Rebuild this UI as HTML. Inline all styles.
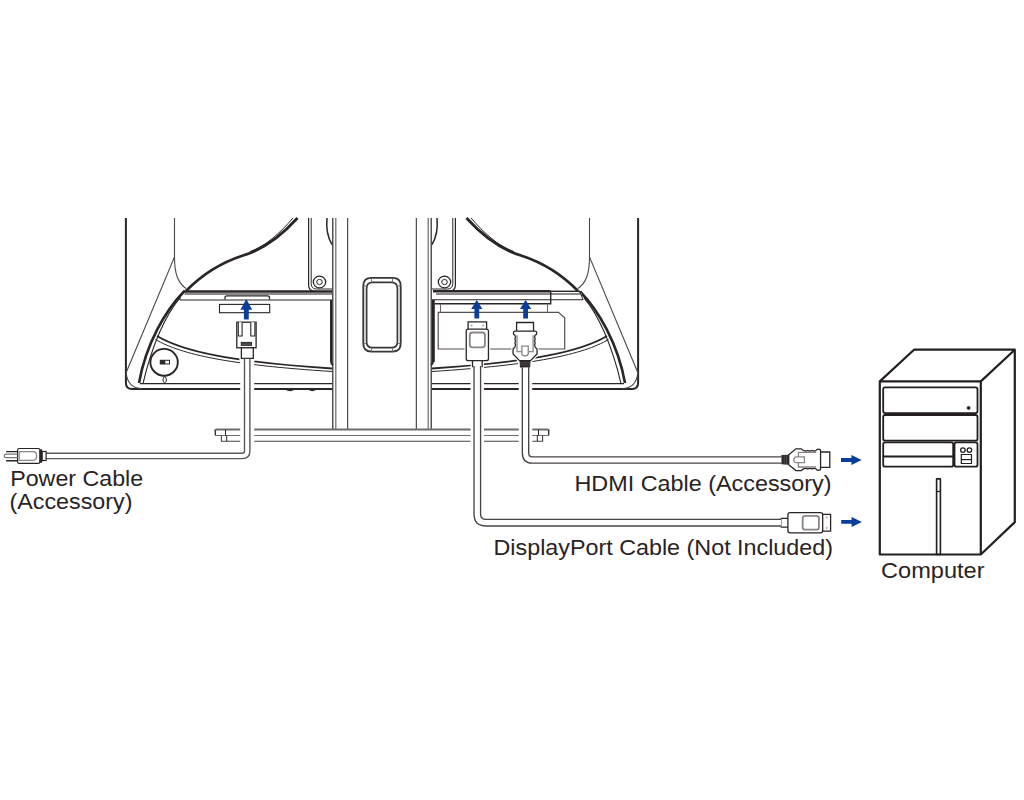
<!DOCTYPE html>
<html><head><meta charset="utf-8">
<style>
html,body{margin:0;padding:0;background:#fff;width:1024px;height:800px;overflow:hidden}
svg{display:block}
text{font-family:"Liberation Sans",sans-serif;fill:#2a2324;stroke:#2a2324;stroke-width:0px}
</style></head>
<body>
<svg width="1024" height="800" viewBox="0 0 1024 800">
<defs>
<g id="half" fill="none" stroke="#2a2526" stroke-linecap="butt">
  <!-- outer frame -->
  <path d="M125.9 218 V383 Q125.9 389 132 389 H332" stroke-width="2"/>
  <path d="M140 383.6 H332" stroke-width="1.4"/>
  <!-- thin vertical + diagonal -->
  <path d="M174.5 218 V257 L126.2 372.5" stroke="#4a4748" stroke-width="1.1"/>
  <path d="M126.2 372.5 Q127.5 388.2 142 388.6" stroke="#4a4748" stroke-width="1.1"/>
  <path d="M174.5 257 C174.5 274 178 283 186 288.5" stroke="#4a4748" stroke-width="1.1"/>
  <!-- S-curve -->
  <path d="M186 291 C204 272.5 223 262 243 255.5 C263 249.5 283 234 297.5 218" stroke-width="2.8"/>
  <path d="M250 251.6 C266 246 280 233 293 218" stroke-width="1"/>
  <!-- arc double -->
  <path d="M184 291.5 C165 311 146 344 139 383" stroke-width="2.6"/>
  <path d="M180 297.8 C166 314 152 345 143 383.6" stroke-width="1.1"/>
  <!-- lower curve -->
  <path d="M157 336 C 182 351, 230 362, 332 368.5" stroke-width="1.8"/>
  <path d="M155.5 339.5 C 181 354.5, 230 365, 332 371.5" stroke-width="1"/>
  <!-- vertical double with rounded corner -->
  <path d="M308.6 218 V285 Q308.6 291.3 315 291.3" stroke-width="1.2"/>
  <path d="M311.2 218 V283.5 Q311.2 289 316.5 289 H332" stroke-width="1"/>
  <!-- screw -->
  <ellipse cx="319.5" cy="282" rx="6.2" ry="5.8" stroke-width="1.3"/>
  <ellipse cx="319.5" cy="282" rx="2.8" ry="2.6" stroke-width="1"/>
  <!-- neck arc -->
  <path d="M327 218 C326 229 328 238 332 244.5" stroke-width="1.5"/>
  <!-- neck verticals -->
  <path d="M332.8 218 V429" stroke-width="1.2"/>
  <path d="M335.8 218 V429" stroke="#6a6768" stroke-width="1.2"/>
  <path d="M347.7 218 V429" stroke-width="1"/>
  <!-- bar right stub below -->
  <path d="M331 300 V361 Q331 364 333 365" stroke-width="2"/>
  <!-- kensington -->
  <!-- handle -->
  <path d="M382 277.9 H371.3 Q363.3 277.9 363.3 285.9 V343.6 Q363.3 351.6 371.3 351.6 H382" stroke="#3a3738" stroke-width="1.9"/>
  <path d="M382 282.4 H372.6 Q366.6 282.4 366.6 288.4 V341.7 Q366.6 347.7 372.6 347.7 H382" stroke="#3a3738" stroke-width="1.7"/>
  <path d="M371.5 278 V282.4 M371.5 347.7 V351.6 M363.3 286 H366.6 M363.3 343.5 H366.6" stroke="#6a6768" stroke-width="0.9"/>
  <!-- base -->
  <path d="M382 429.5 H216.5 Q215.3 429.5 215.3 431" stroke="#6f6c6d" stroke-width="2.2" />
  <path d="M215.3 430.5 V435.5" stroke-width="1.3" />
  <path d="M215.3 435.5 H382" stroke="#6f6c6d" stroke-width="1.2"/>
  <path d="M221.4 435.5 V441.3 H382" stroke="#4a4647" stroke-width="1.1"/>
  <path d="M225.5 429.5 V435.5 M226.7 435.5 V441.3" stroke-width="1"/>
</g>
<g id="hdmi" fill="none" stroke="#2a2526" stroke-width="1.3">
  <path d="M-7.7 0 H7.7 V8.6 H10.6 V12.5 H9.2 V24.7 L10.9 26.5 V31.5 L5 38.2 V45 H-5 V38.2 L-10.9 31.5 V26.5 L-9.2 24.7 V12.5 H-10.6 V8.6 H-7.7 Z" fill="#fff" stroke="#fff" stroke-width="3.5" vector-effect="non-scaling-stroke"/>
  <path d="M-7.7 8.6 V0 H7.7 V8.6" vector-effect="non-scaling-stroke"/>
  <path d="M-9.2 12.5 Q-10.6 12.5 -10.6 10.6 Q-10.6 8.6 -9 8.6 H9 Q10.6 8.6 10.6 10.6 Q10.6 12.5 9.2 12.5" vector-effect="non-scaling-stroke"/>
  <path d="M-9.2 12.5 Q-8.2 14.5 -9.2 16.5 Q-8.2 18.5 -9.2 20.5 Q-8.2 22.5 -9.2 24.7 L-10.9 26.5 V31.5 L-5 38.2 H5 L10.9 31.5 V26.5 L9.2 24.7 Q8.2 22.5 9.2 20.5 Q8.2 18.5 9.2 16.5 Q8.2 14.5 9.2 12.5" vector-effect="non-scaling-stroke"/>
  <path d="M-7.3 12.7 V29.2 H7.3 V12.7" stroke="#8a8586" vector-effect="non-scaling-stroke"/>
  <path d="M-2.9 23.6 V31 Q-2.9 33.4 0 33.4 Q2.9 33.4 2.9 31 V23.6 Z" stroke="#8a8586" fill="#fff" vector-effect="non-scaling-stroke"/>
  <path d="M-5 38.2 H5 L4.6 45 H-4.6 Z" fill="#2a2526" stroke="none"/>
  <path d="M-4.5 40.3 H4.5 M-4.5 42.4 H4.5" stroke="#6a6566" stroke-width="0.6"/>
</g>
<g id="dp" fill="none" stroke="#2a2526" stroke-width="1.3">
  <path d="M-8.4 0 H8.4 V7.2 H10.1 V38.8 H4.4 V45.4 H-4.4 V38.8 H-10.1 V7.2 H-8.4 Z" fill="#fff" stroke="#fff" stroke-width="3.5" vector-effect="non-scaling-stroke"/>
  <path d="M-8.4 7.2 V0 H8.4 V7.2" vector-effect="non-scaling-stroke"/>
  <circle cx="-5.2" cy="3.5" r="1" fill="#b0adae" stroke="none"/>
  <circle cx="5.2" cy="3.5" r="1" fill="#b0adae" stroke="none"/>
  <rect x="-10.1" y="7.2" width="20.2" height="31.6" rx="2" vector-effect="non-scaling-stroke"/>
  <rect x="-6.9" y="10.6" width="13.8" height="14.8" rx="2.5" stroke="#8a8586" stroke-width="1.8" vector-effect="non-scaling-stroke"/>
  <path d="M-4.4 38.8 V45.4 M4.4 38.8 V45.4" vector-effect="non-scaling-stroke"/>
</g>
</defs>

<!-- MONITOR -->
<use href="#half"/>
<use href="#half" transform="translate(764,0) scale(-1,1)"/>

<g fill="none" stroke="#2a2526">
  <!-- left port bar -->
  <path d="M183 291.5 H332" stroke-width="2.4"/>
  <path d="M184.5 294 H332" stroke="#8d8a8b" stroke-width="2.2"/>
  <path d="M180 300 H332" stroke-width="1.1"/>
  <path d="M180 296.5 V300" stroke-width="1"/>
  <path d="M225 299.5 V297 Q225 295.8 227 295.8 H267.5 Q269.5 295.8 269.5 297.5 V299.5" stroke-width="1.3"/>
  <rect x="219.5" y="304.4" width="50.2" height="8.3" stroke-width="1.1"/>
    <path d="M286 389.5 Q290 391.5 294 389.5 M309 389.5 Q312.3 391.5 315.6 389.5" stroke-width="1.3"/>
  <!-- kensington -->
  <ellipse cx="164.1" cy="362.3" rx="13.7" ry="13.4" stroke-width="1.9"/>
  <rect x="160.3" y="360.3" width="9.2" height="3.7" stroke-width="1"/>
  <rect x="160.3" y="360.3" width="5" height="3.7" fill="#2a2526" stroke="none"/>
  <path d="M164.7 375.7 L163 379 Q162.5 382.6 164.7 382.6 Q166.9 382.6 166.4 379 Z" stroke-width="1" fill="#fff"/>

  <!-- right port bar -->
  <path d="M433 291.3 H550.7" stroke-width="2.4"/>
  <path d="M550.7 291.3 H580" stroke-width="1.4"/>
  <path d="M436 294 H582" stroke="#8d8a8b" stroke-width="2.2"/>
  <path d="M432 299.8 H583" stroke-width="1.1"/>
  <path d="M583 300 L580 291.5" stroke-width="1"/>
  <path d="M550.7 291.3 V303.75 H435" stroke-width="1.4"/>
  <path d="M433.8 300 V362" stroke-width="2"/>
  <path d="M440.5 303.75 V312.3 M547.5 303.75 V312.3" stroke="#6d6a6b" stroke-width="1.1"/>
  <path d="M438.2 312.3 H558.5 L564.7 317.8 V349 H438.2 Z" stroke="#555152" stroke-width="1.2"/>
</g>

<g fill="none">
  <path d="M247.2 358 V450.9 Q247.2 455.9 242.2 455.9 H46" stroke="#fff" stroke-width="14"/>
  <path d="M477.3 366 V514 Q477.3 522.7 486 522.7 H781" stroke="#fff" stroke-width="13.5"/>
  <path d="M525.5 367 V453 Q525.5 460 532.5 460 H781" stroke="#fff" stroke-width="13.5"/>
</g>
<!-- power plug (vertical) -->
<g fill="#fff" stroke="#2a2526" stroke-width="1.3">
  <path d="M236.8 322.2 h19.3 v25.6 h-2.8 v10.6 h-11.9 v-10.6 h-4.6 z" stroke="#fff" stroke-width="4"/>
  <rect x="236.8" y="322.2" width="19.3" height="25.6"/>
  <path d="M238.3 322.2 V336 H242.1 V322.2 M250.8 322.2 V336 H254.9 V322.2" stroke-width="1.1"/>
  <rect x="240.8" y="341.9" width="11.2" height="4" fill="#2a2526" stroke="none"/>
  <path d="M241.5 343.2 H251.3 M241.5 344.6 H251.3" stroke="#8a8586" stroke-width="0.5"/>
  <rect x="241.4" y="347.8" width="11.9" height="10.6"/>
</g>

<!-- connectors vertical -->
<g>
  <use href="#dp" transform="translate(477.35,321.9) scale(1.1,1)"/>
  <use href="#hdmi" transform="translate(525.05,322.5) scale(1.1,1)"/>
  <!-- horizontal -->
  <use href="#hdmi" transform="matrix(0,1,-1.075,0,829.8,459.7)"/>
  <use href="#dp" transform="matrix(0,1,-1.1,0,830.6,522.75)"/>
</g>

<!-- base gaps & cables -->
<g fill="none" stroke-linecap="butt">
  <!-- power cable -->
  <path d="M247.2 358.4 V450.9 Q247.2 455.9 242.2 455.9 H46" stroke="#5d5859" stroke-width="6.8"/>
  <path d="M247.2 359 V450.9 Q247.2 455.9 242.2 455.9 H45.5" stroke="#fff" stroke-width="4"/>
  <!-- dp cable -->
  <path d="M477.3 366 V514 Q477.3 522.7 486 522.7 H781.5" stroke="#4a4445" stroke-width="7.9"/>
  <path d="M477.3 365 V514 Q477.3 522.7 486 522.7 H781" stroke="#fff" stroke-width="5.2"/>
  <!-- hdmi cable -->
  <path d="M525.5 367.3 V453 Q525.5 460 532.5 460 H781.6" stroke="#4a4445" stroke-width="7.7"/>
  <path d="M525.5 367.6 V453 Q525.5 460 532.5 460 H781.3" stroke="#fff" stroke-width="5"/>
</g>


<!-- AC plug left -->
<g fill="none" stroke="#2a2526" stroke-width="1.2">
  <rect x="17.6" y="448.5" width="22.2" height="14.9" rx="1.5" fill="#fff"/>
  <path d="M33 451.7 H19.2 V460.3 H33 Q36.6 460.3 36.6 456 Q36.6 451.7 33 451.7" stroke="#8a8586"/>
  <rect x="39.8" y="449.3" width="2.4" height="13.4" fill="#2a2526" stroke="none"/>
  <rect x="42.2" y="451.5" width="3.9" height="9" fill="#fff"/>
  <path d="M6.1 451.6 H17.6 M6.1 460.8 H17.6" stroke-width="1.4"/>
  <path d="M17.6 454.2 H6 Q4.2 454.2 4.2 455.9 Q4.2 457.6 6 457.6 H17.6" stroke="#7a7576"/>
</g>

<!-- arrows -->
<g fill="#0b3d9a">
  <path d="M246.3 299 L252.2 309.8 H248.75 V319.5 H243.9 V309.8 H240.4 Z"/>
  <path d="M476.8 300 L482.4 309 H479.2 V318.6 H474.4 V309 H471.2 Z"/>
  <path d="M525.6 300 L531.2 309 H528 V318.6 H523.2 V309 H520 Z"/>
  <path d="M861.7 460 L851.4 465 V461.9 H841 V458 H851.4 V455 Z"/>
  <path d="M861.9 521.9 L851.6 526.9 V523.8 H841.2 V519.9 H851.6 V516.9 Z"/>
</g>

<!-- COMPUTER -->
<g fill="none" stroke="#231f20" stroke-width="2.2" stroke-linejoin="round">
  <rect x="879.8" y="381.4" width="101" height="173.1"/>
  <path d="M879.8 381.4 L914 349.7 H1014.8 L980.8 381.4 M1014.8 349.7 V522.1 L980.8 554.5"/>
  <rect x="883.2" y="387.4" width="94.3" height="25.7" rx="2" stroke-width="1.8"/>
  <rect x="883.2" y="415" width="94.3" height="25.7" rx="2" stroke-width="1.8"/>
  <rect x="883.2" y="442.3" width="70" height="24.4" rx="2" stroke-width="1.8"/>
  <path d="M883.2 456.5 H953.2" stroke-width="1.8"/>
  <rect x="954.5" y="442.3" width="23" height="24.4" rx="2" stroke-width="1.8"/>
  <circle cx="962.9" cy="450.1" r="2.3" stroke-width="1.3"/>
  <circle cx="969.4" cy="450.1" r="2.3" stroke-width="1.3"/>
  <rect x="961.3" y="454.5" width="10.2" height="9" stroke-width="1.2"/>
  <path d="M961.3 459.6 H971.5" stroke-width="1.2"/>
  <circle cx="968.6" cy="407.9" r="1.5" fill="#231f20" stroke-width="0.8"/>
  <rect x="936.6" y="478.9" width="3.8" height="75.6" stroke-width="1.6"/>
  <path d="M936.6 491.5 H940.4" stroke-width="1.2"/>
</g>

<!-- TEXT -->
<text x="10.2" y="486.2" font-size="21.7" textLength="133" lengthAdjust="spacingAndGlyphs">Power Cable</text>
<text x="9.5" y="508.6" font-size="21.7" textLength="123" lengthAdjust="spacingAndGlyphs">(Accessory)</text>
<text x="574.5" y="491.4" font-size="22.5" textLength="257" lengthAdjust="spacingAndGlyphs">HDMI Cable (Accessory)</text>
<text x="493.5" y="554.8" font-size="22.5" textLength="339.5" lengthAdjust="spacingAndGlyphs">DisplayPort Cable (Not Included)</text>
<text x="881" y="578.2" font-size="22.4" textLength="103.5" lengthAdjust="spacingAndGlyphs">Computer</text>
</svg>
</body></html>
